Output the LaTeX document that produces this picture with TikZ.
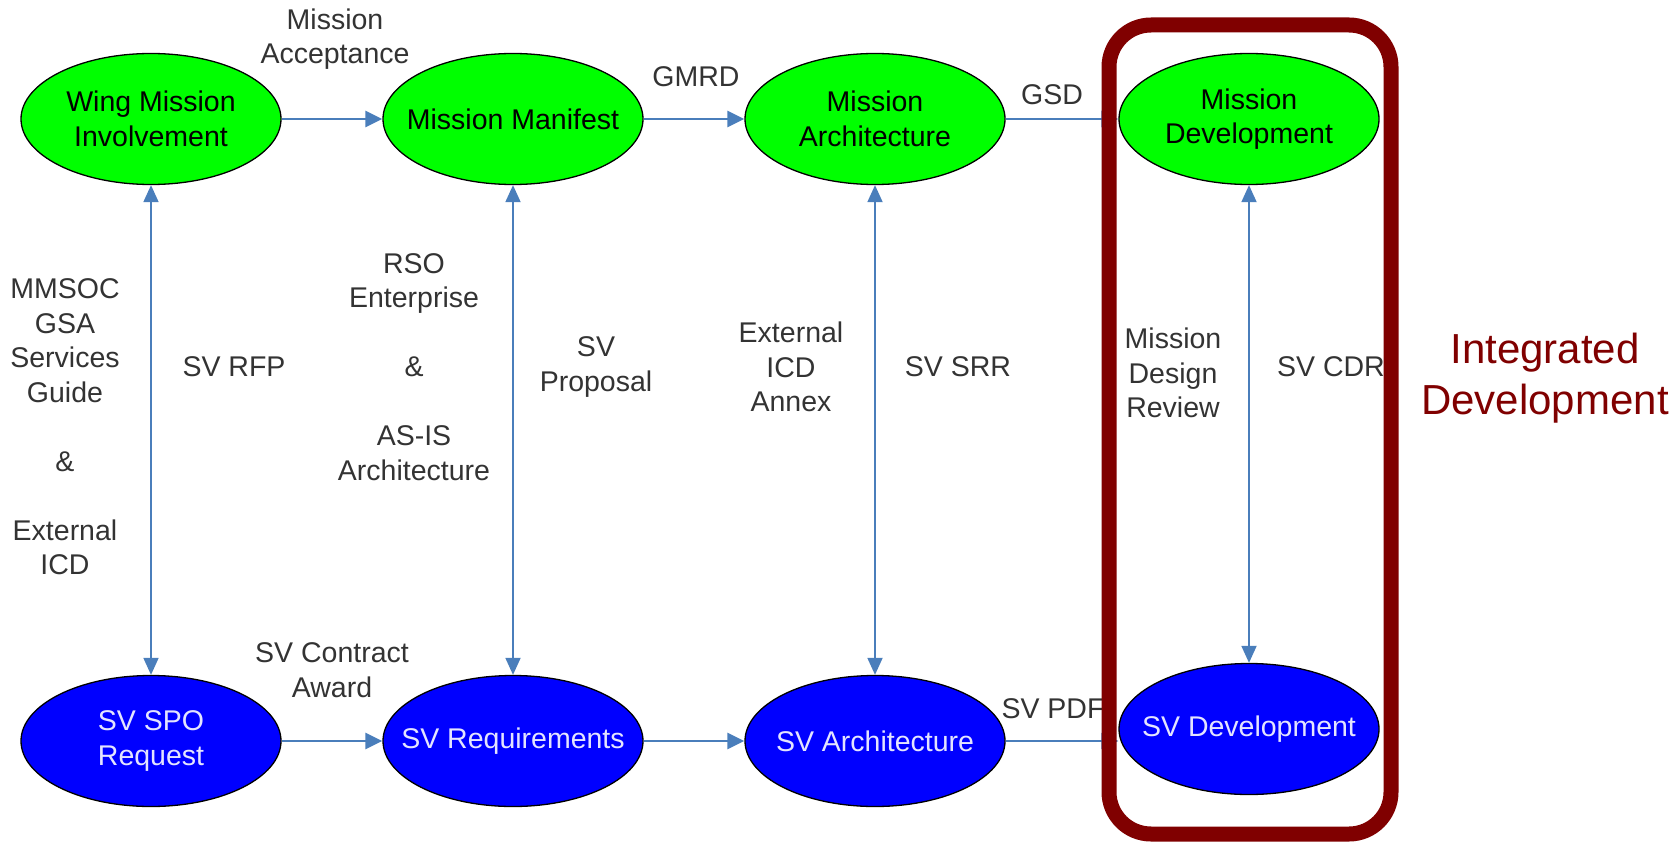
\documentclass[tikz,border=0pt]{standalone}
\usepackage{fontspec}
\setmainfont{Liberation Sans}
\usetikzlibrary{shapes.geometric,arrows.meta}
\definecolor{stagegreen}{HTML}{00FF00}
\definecolor{stageblue}{HTML}{0000FF}
\definecolor{paletext}{HTML}{E4E4FF}
\definecolor{linkblue}{HTML}{4A7EBB}
\definecolor{labelgray}{HTML}{333333}
\definecolor{boxred}{HTML}{800000}
\begin{document}
\begin{tikzpicture}[x=1pt,y=-1pt,
  every node/.style={font=\fontsize{28.5}{34.5}\selectfont},
  stage/.style={ellipse, draw=black, line width=1.3pt, minimum width=260pt,
    minimum height=131pt, inner xsep=-40pt, inner ysep=0pt, align=center},
  mission/.style={stage, fill=stagegreen, text=black},
  vehicle/.style={stage, fill=stageblue, text=paletext},
  flow/.style={draw=linkblue, line width=2.6pt,
    -{Triangle[length=17pt,width=16pt]}},
  review/.style={draw=linkblue, line width=1.8pt,
    {Triangle[length=17pt,width=15pt]}-{Triangle[length=17pt,width=15pt]}},
  lbl/.style={text=labelgray, align=center, inner sep=0pt}
]
\useasboundingbox (0,0) rectangle (1677,845);

% mission stages (top row)
\node[mission] (wing) at (151,119) {Wing Mission\\Involvement};
\node[mission] (manifest) at (513,119) {Mission Manifest};
\node[mission] (march) at (875,119) {Mission\\Architecture};
\node[mission] (mdev) at (1249,119) {Mission\\Development};

% space vehicle stages (bottom row)
\node[vehicle] (spo) at (151,741) {SV SPO\\Request};
\node[vehicle] (svreq) at (513,741) {SV Requirements};
\node[vehicle] (svarch) at (875,741) {SV Architecture};
\node[vehicle] (svdev) at (1249,729) {SV Development};

% horizontal flow
\draw[flow] (wing) -- (manifest);
\draw[flow] (manifest) -- (march);
\draw[flow] (march) -- (mdev);
\draw[flow] (spo) -- (svreq);
\draw[flow] (svreq) -- (svarch);
\draw[flow, line width=1.8pt] (svarch.east) -- (svdev.west |- svarch.east);

% vertical reviews
\draw[review] (wing) -- (spo);
\draw[review] (manifest) -- (svreq);
\draw[review] (march) -- (svarch);
\draw[review] (mdev) -- (svdev);

% labels
\node[lbl] (lacc) at (335,39) {Mission\\Acceptance};
\node[lbl] (lgmrd) at (696,77) {GMRD};
\node[lbl] (lgsd) at (1052,95) {GSD};
\node[lbl] (lmmsoc) at (65,427) {MMSOC\\GSA\\Services\\Guide\\[34.5pt]\&\\[34.5pt]External\\ICD};
\node[lbl] (lrfp) at (234,367) {SV RFP};
\node[lbl] (lrso) at (414,367) {RSO\\Enterprise\\[34.5pt]\&\\[34.5pt]AS-IS\\Architecture};
\node[lbl] (lprop) at (596,367) {SV\\Proposal};
\node[lbl] (lext) at (791,367) {External\\ICD\\Annex};
\node[lbl] (lsrr) at (958,367) {SV SRR};
\node[lbl] (lmdr) at (1173,373) {Mission\\Design\\Review};
\node[lbl] (lcdr) at (1331,367) {SV CDR};
\node[lbl] (laward) at (332,670) {SV Contract\\Award};
\node[lbl] (lpdr) at (1053,709) {SV PDF};

% integrated development frame
\draw[boxred, line width=15pt, rounded corners=42pt] (1109,25) rectangle (1391,834);
\node[text=boxred, align=center, inner sep=0pt,
  font=\fontsize{42}{51}\selectfont] (integ) at (1545,378) {Integrated\\Development};
\end{tikzpicture}
\end{document}
